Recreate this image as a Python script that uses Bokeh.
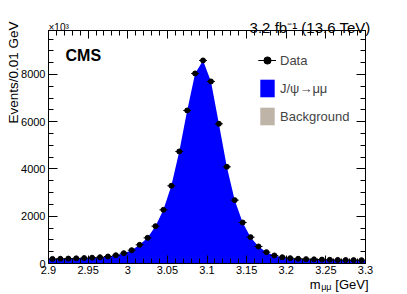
import numpy as np
from bokeh.plotting import figure
from bokeh.models import (Range1d, LinearAxis, FixedTicker, Label, Legend, LegendItem,
                          ColumnDataSource)
from bokeh.embed import file_html
from bokeh.resources import INLINE

# ---- data ----
mass = [2.905, 2.915, 2.925, 2.935, 2.945, 2.955, 2.965, 2.975, 2.985, 2.995,
        3.005, 3.015, 3.025, 3.035, 3.045, 3.055, 3.065, 3.075, 3.085, 3.095,
        3.105, 3.115, 3.125, 3.135, 3.145, 3.155, 3.165, 3.175, 3.185, 3.195,
        3.205, 3.215, 3.225, 3.235, 3.245, 3.255, 3.265, 3.275, 3.285, 3.295]
events = [195, 200, 208, 218, 230, 245, 265, 296, 350, 437,
          564, 790, 1086, 1580, 2271, 3288, 4741, 6476, 8042, 8593,
          7704, 5913, 4092, 2681, 1735, 1115, 720, 480, 340, 265,
          225, 200, 185, 175, 165, 158, 152, 147, 143, 140]
bin_half_width = 0.005

# fit curve (signal + background) endpoints at the plot edges
fit_edge_mass = [2.9, 3.3]
fit_edge_events = [192, 138]

x_tick_vals = [2.9, 2.95, 3.0, 3.05, 3.1, 3.15, 3.2, 3.25, 3.3]
x_tick_labels = ["2.9", "2.95", "3", "3.05", "3.1", "3.15", "3.2", "3.25", "3.3"]
y_tick_vals = [0, 2000, 4000, 6000, 8000]

X_MIN, X_MAX = 2.9, 3.3
Y_MIN, Y_MAX = 0, 9860

FONT = "Liberation Sans"
BLUE = "#0000ff"
BKG = "#bfb4a8"

p = figure(width=407, height=294, output_backend="svg", toolbar_location=None,
           x_range=Range1d(X_MIN, X_MAX), y_range=Range1d(Y_MIN, Y_MAX),
           min_border_left=48, min_border_right=42, min_border_top=30,
           min_border_bottom=31)
p.background_fill_color = "white"
p.border_fill_color = "white"
p.outline_line_color = "black"
p.outline_line_width = 1
p.xgrid.visible = False
p.ygrid.visible = False

# ---- fill (fit) ----
fill_x = [fit_edge_mass[0]] + mass + [fit_edge_mass[1]]
fill_y = [fit_edge_events[0]] + events + [fit_edge_events[1]]
sig = p.varea(x=fill_x, y1=[0] * len(fill_x), y2=fill_y, fill_color=BLUE)
bkg = p.varea(x=[X_MIN, X_MAX], y1=[0, 0], y2=[0, 0], fill_color=BKG)

# ---- data points with error bars ----
m = np.array(mass)
e = np.array(events, dtype=float)
err = np.sqrt(e)
src = ColumnDataSource(dict(x=m, y=e, x0=m - bin_half_width, x1=m + bin_half_width,
                            y0=e - err, y1=e + err))
hbar = p.segment(x0="x0", y0="y", x1="x1", y1="y", source=src, line_color="black", line_width=1)
vbar = p.segment(x0="x", y0="y0", x1="x", y1="y1", source=src, line_color="black", line_width=1)
pts = p.scatter(x="x", y="y", source=src, size=5, color="black")

# ---- axes ----
xt = FixedTicker(ticks=x_tick_vals, minor_ticks=list(np.round(np.arange(X_MIN, X_MAX + 1e-9, 0.01), 3)))
yt = FixedTicker(ticks=y_tick_vals, minor_ticks=list(np.arange(0, Y_MAX, 500)))

def style(ax, labels=True, major=9, minor=5):
    ax.major_tick_in = major
    ax.major_tick_out = 0
    ax.minor_tick_in = minor
    ax.minor_tick_out = 0
    ax.axis_line_color = "black"
    ax.major_tick_line_color = "black"
    ax.minor_tick_line_color = "black"
    ax.major_label_text_font = FONT
    if labels:
        ax.major_label_text_font_size = "11px"
        ax.major_label_text_color = "black"
        ax.major_label_standoff = 2
    else:
        ax.major_label_text_font_size = "1px"
        ax.major_label_text_color = None
        ax.major_label_standoff = 0

p.xaxis.ticker = xt
p.xaxis.major_label_overrides = {v: s for v, s in zip(x_tick_vals, x_tick_labels)}
style(p.xaxis[0], True, 8, 5)

p.yaxis.ticker = yt
style(p.yaxis[0], True, 9, 5)
p.yaxis.major_label_standoff = 3

top = LinearAxis(ticker=xt)
style(top, False, 8, 5)
p.add_layout(top, "above")

right = LinearAxis(ticker=yt)
style(right, False, 9, 5)
p.add_layout(right, "right")

# ---- texts (in side panels so they are not clipped to the frame) ----
def lab(panel, text, x, y, size, xo=0, yo=0, align="left", baseline="alphabetic",
        style_="normal", angle=0):
    p.add_layout(Label(x=x, y=y, x_offset=xo, y_offset=yo, text=text, text_font=FONT,
                       text_font_size=size, text_align=align, text_baseline=baseline,
                       text_font_style=style_, angle=angle, text_color="black"), panel)

# lumi text
lab("above", "3.2 fb\u207b\u00b9 (13.6 TeV)", X_MAX, Y_MAX, "15px", xo=5, yo=3, align="right")
# y title
lab("left", "Events/0.01 GeV", X_MIN, Y_MAX, "13.5px", xo=-35, yo=9, align="right",
    baseline="middle", angle=np.pi / 2)
# x title
lab("below", "[GeV]", X_MAX, Y_MIN, "13px", xo=3, yo=-21, align="right")
lab("right", "\u03bc\u03bc", X_MAX, Y_MIN, "9px", xo=3 - 37, yo=-23, align="right")
lab("right", "m", X_MAX, Y_MIN, "13px", xo=3 - 37 - 11, yo=-21, align="right")
# x10^3
lab("right", "\u00d710\u00b3", X_MIN, Y_MAX, "10px", xo=0, yo=3)

# CMS inside the frame
p.add_layout(Label(x=X_MIN, y=Y_MAX, x_offset=17, y_offset=-25, text="CMS", text_font=FONT,
                   text_font_size="16px", text_font_style="bold", text_color="black",
                   text_baseline="alphabetic"))

# ---- legend ----
legend = Legend(items=[LegendItem(label="Data", renderers=[hbar, vbar, pts]),
                       LegendItem(label="J/\u03c8\u2192\u03bc\u03bc", renderers=[sig]),
                       LegendItem(label="Background", renderers=[bkg])],
                location=(210, 136), orientation="vertical")
legend.glyph_width = 18
legend.glyph_height = 22
legend.spacing = 6
legend.padding = 0
legend.margin = 0
legend.label_standoff = 4
legend.label_height = 22
legend.label_text_font = FONT
legend.label_text_font_size = "13px"
legend.border_line_color = None
legend.background_fill_alpha = 0
p.add_layout(legend, "center")

open("out.html", "w").write(file_html(p, INLINE))
